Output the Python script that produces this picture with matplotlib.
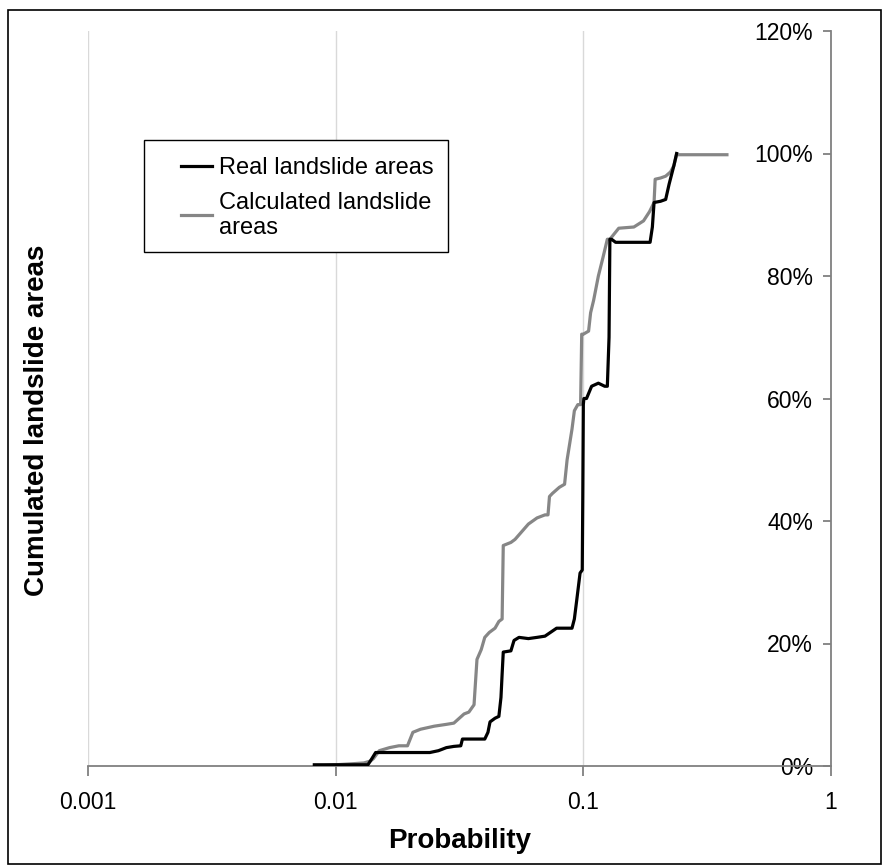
import numpy as np
import matplotlib
matplotlib.use('Agg')
import matplotlib.pyplot as plt
from matplotlib.ticker import FixedLocator, NullLocator

plt.rcParams['font.family'] = ['Liberation Sans', 'DejaVu Sans']

# Real landslide areas (probability, cumulated fraction)
real_p = [0.0082, 0.0095, 0.011, 0.0135, 0.0140, 0.0145, 0.017, 0.020, 0.024,
          0.026, 0.028, 0.030, 0.032, 0.0325, 0.037, 0.040, 0.0412, 0.0420,
          0.0440, 0.0456, 0.0465, 0.0470, 0.0475, 0.051, 0.0525, 0.055, 0.060,
          0.065, 0.070, 0.078, 0.090, 0.092, 0.094, 0.096, 0.097, 0.099,
          0.0995, 0.100, 0.1005, 0.103, 0.108, 0.115, 0.122, 0.125, 0.127,
          0.128, 0.130, 0.135, 0.150, 0.170, 0.186, 0.190, 0.193, 0.205,
          0.215, 0.222, 0.232, 0.238]
real_c = [0.002, 0.002, 0.002, 0.002, 0.012, 0.022, 0.022, 0.022, 0.022,
          0.025, 0.030, 0.032, 0.033, 0.044, 0.044, 0.044, 0.055, 0.072,
          0.078, 0.081, 0.112, 0.150, 0.186, 0.188, 0.205, 0.210, 0.208,
          0.210, 0.212, 0.225, 0.225, 0.240, 0.270, 0.300, 0.315, 0.320,
          0.440, 0.590, 0.600, 0.600, 0.620, 0.625, 0.620, 0.620, 0.700,
          0.860, 0.860, 0.855, 0.855, 0.855, 0.855, 0.880, 0.920, 0.922,
          0.925, 0.950, 0.980, 1.000]

# Calculated landslide areas
calc_p = [0.0085, 0.010, 0.012, 0.013, 0.0138, 0.0142, 0.0150, 0.0165, 0.018,
          0.0195, 0.0205, 0.022, 0.025, 0.028, 0.030, 0.033, 0.0345, 0.0362,
          0.0372, 0.0387, 0.0400, 0.0417, 0.0440, 0.0456, 0.0470, 0.0475,
          0.051, 0.053, 0.060, 0.065, 0.070, 0.072, 0.073, 0.075, 0.080,
          0.084, 0.086, 0.090, 0.092, 0.095, 0.0975, 0.0985, 0.100, 0.105,
          0.107, 0.110, 0.115, 0.120, 0.125, 0.128, 0.139, 0.160, 0.175,
          0.185, 0.193, 0.195, 0.205, 0.215, 0.225, 0.232, 0.238, 0.380]
calc_c = [0.000, 0.002, 0.004, 0.005, 0.008, 0.012, 0.025, 0.030, 0.033,
          0.033, 0.055, 0.060, 0.065, 0.068, 0.070, 0.085, 0.088, 0.100,
          0.174, 0.190, 0.210, 0.218, 0.225, 0.236, 0.240, 0.360, 0.365,
          0.370, 0.395, 0.405, 0.410, 0.410, 0.440, 0.445, 0.455, 0.460,
          0.500, 0.550, 0.580, 0.590, 0.590, 0.705, 0.705, 0.710, 0.740,
          0.760, 0.800, 0.830, 0.860, 0.860, 0.878, 0.880, 0.890, 0.905,
          0.920, 0.958, 0.960, 0.963, 0.970, 0.980, 0.998, 0.998]

y_ticks = [0.0, 0.2, 0.4, 0.6, 0.8, 1.0, 1.2]
x_ticks = [0.001, 0.01, 0.1, 1]
x_labels = ['0.001', '0.01', '0.1', '1']

W, H = 883, 866
fig = plt.figure(figsize=(W / 100, H / 100), dpi=100)
# outer frame
fig.add_artist(plt.Rectangle((8 / W, 1 - 864 / H), 873 / W, 854 / H,
                             transform=fig.transFigure, fill=False,
                             edgecolor='black', linewidth=1.2))

L, R, T, B = 88, 831, 31, 766
ax = fig.add_axes([L / W, 1 - B / H, (R - L) / W, (B - T) / H])
ax.set_xscale('log')
ax.set_xlim(0.001, 1)
ax.set_ylim(0, 1.2)

def ax_xy(px, py):
    return (px - L) / (R - L), (B - py) / (B - T)

ax.plot(real_p, real_c, color='black', linewidth=2.3, label='Real landslide areas',
        solid_joinstyle='round', zorder=3)
ax.plot(calc_p, calc_c, color='#868686', linewidth=2.3,
        label='Calculated landslide\nareas', solid_joinstyle='round', zorder=2)

for s in ['top', 'left']:
    ax.spines[s].set_visible(False)
for s in ['bottom', 'right']:
    ax.spines[s].set_color('#808080')
    ax.spines[s].set_linewidth(1.3)

ax.xaxis.set_major_locator(FixedLocator(x_ticks))
ax.xaxis.set_minor_locator(NullLocator())
ax.set_xticklabels(x_labels)
ax.tick_params(axis='x', direction='out', length=7, width=1.3, color='#808080',
               labelsize=16.5, pad=11)
ax.grid(axis='x', color='#d9d9d9', linewidth=1)

ax.yaxis.tick_right()
ax.set_yticks(y_ticks)
ax.set_yticklabels(['%d%%' % round(v * 100) for v in y_ticks])
ax.tick_params(axis='y', direction='in', length=6, width=1.3, color='#808080',
               labelsize=16.5, pad=-13)
for lab in ax.get_yticklabels():
    lab.set_horizontalalignment('right')

ax.set_xlabel('Probability', fontsize=20, fontweight='bold', labelpad=10)
fig.text(37 / W, 1 - 420 / H, 'Cumulated landslide areas', rotation=90,
         fontsize=20, fontweight='bold', ha='center', va='center')

# legend box
x0, y0 = ax_xy(144, 252)
x1, y1 = ax_xy(448, 140)
ax.add_patch(plt.Rectangle((x0, y0), x1 - x0, y1 - y0, transform=ax.transAxes,
                           facecolor='white', edgecolor='black', linewidth=1.0,
                           zorder=4))
leg = ax.legend(loc='upper left', bbox_to_anchor=ax_xy(181, 157),
                fontsize=17, frameon=False,
                handlelength=1.3, handletextpad=0.3, labelspacing=0.53,
                borderpad=0, borderaxespad=0)
leg.set_zorder(5)

fig.savefig('out.png', dpi=100)
